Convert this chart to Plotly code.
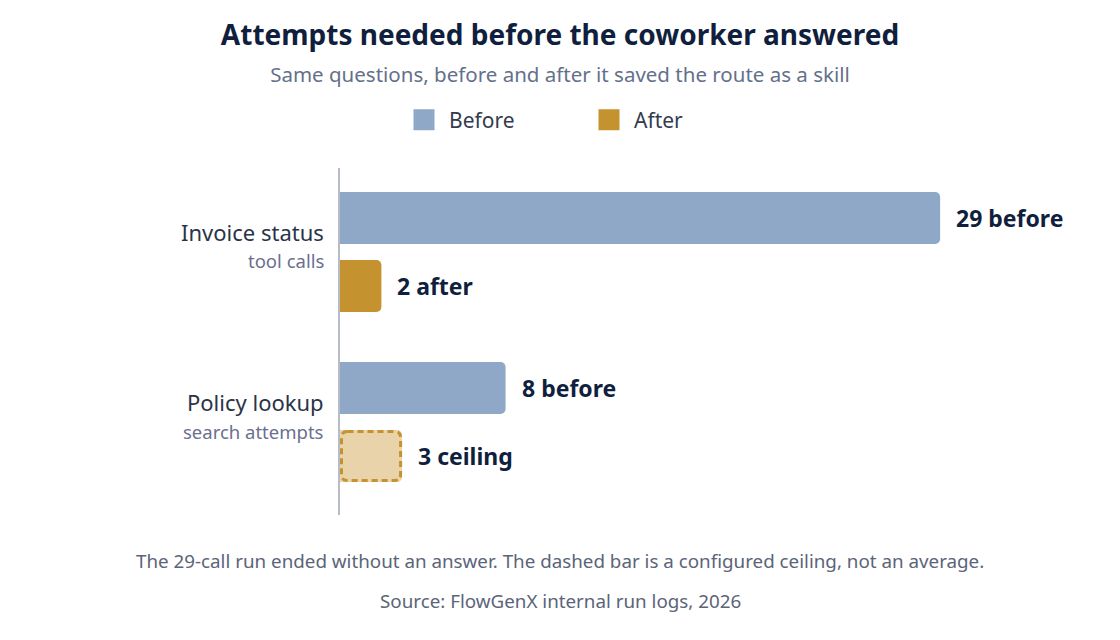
import plotly.graph_objects as go

# Data
questions = ["Invoice status", "Policy lookup"]
units = ["tool calls", "search attempts"]
before = [29, 8]
after = [2, 3]
after_is_ceiling = [False, True]
before_labels = ["29 before", "8 before"]
after_labels = ["2 after", "3 ceiling"]

FONT = "Noto Sans"
NAVY = "#0f1f3d"
BLUE = "#8fa8c8"
GOLD = "#c4922e"
GOLD_LIGHT = "#e8d3ab"
MUTED = "#5b6478"

W, H = 1104, 624
L, R, T, B = 332, 27, 160, 117
plot_w, plot_h = W - L - R, H - T - B

ypos = list(range(len(questions)))
X_MAX = 36
Y_RANGE = [1.547, -0.494]

fig = go.Figure()

fig.add_trace(go.Bar(
    y=ypos, x=before, orientation="h", name="Before", showlegend=False,
    marker=dict(color=BLUE, cornerradius=5, line=dict(width=0)),
    hoverinfo="x+name",
))

after_colors = [GOLD_LIGHT if c else GOLD for c in after_is_ceiling]
fig.add_trace(go.Bar(
    y=ypos, x=after, orientation="h", name="After", showlegend=False,
    marker=dict(color=after_colors, cornerradius=5, line=dict(width=0)),
    hoverinfo="x+name",
))

# legend swatches (bigger than plotly's default bar swatch)
for name, col in [("Before", BLUE), ("After", GOLD)]:
    fig.add_trace(go.Scatter(
        x=[None], y=[None], mode="markers", name=name,
        marker=dict(symbol="square", size=16, color=col, line=dict(color=col, width=8)),
    ))

# dashed outline for ceiling bars (plotly bars cannot dash their outline)
bargap, groupgap = 0.2, 0.235
slot = (1 - bargap) / 2
bw = slot * (1 - groupgap)
px_per_x = plot_w / X_MAX
px_per_y = plot_h / (Y_RANGE[0] - Y_RANGE[1])
rx, ry = 6 / px_per_x, 6 / px_per_y
ix, iy = 1.5 / px_per_x, 1.5 / px_per_y
for i, (v, ceil) in enumerate(zip(after, after_is_ceiling)):
    if not ceil:
        continue
    yc = ypos[i] + slot / 2
    y0, y1 = yc - bw / 2 + iy, yc + bw / 2 - iy
    x0, x1 = ix, v - ix
    path = (f"M {x0 + rx},{y0} L {x1 - rx},{y0} Q {x1},{y0} {x1},{y0 + ry} "
            f"L {x1},{y1 - ry} Q {x1},{y1} {x1 - rx},{y1} "
            f"L {x0 + rx},{y1} Q {x0},{y1} {x0},{y1 - ry} "
            f"L {x0},{y0 + ry} Q {x0},{y0} {x0 + rx},{y0} Z")
    fig.add_shape(type="path", path=path, xref="x", yref="y",
                  line=dict(color=GOLD, width=3, dash="6px,4px"),
                  fillcolor="rgba(0,0,0,0)")

# value labels and category labels
for i in range(len(questions)):
    fig.add_annotation(x=before[i], y=ypos[i] - slot / 2, text=f"<b>{before_labels[i]}</b>",
                       xanchor="left", xshift=14, showarrow=False,
                       font=dict(size=23, color=NAVY, family=FONT))
    fig.add_annotation(x=after[i], y=ypos[i] + slot / 2, text=f"<b>{after_labels[i]}</b>",
                       xanchor="left", xshift=14, showarrow=False,
                       font=dict(size=23, color=NAVY, family=FONT))
    fig.add_annotation(x=0, xref="paper", y=ypos[i], text=questions[i],
                       xanchor="right", xshift=-14, yshift=20, showarrow=False,
                       font=dict(size=22, color="#2b3347", family=FONT))
    fig.add_annotation(x=0, xref="paper", y=ypos[i], text=units[i],
                       xanchor="right", xshift=-14, yshift=-9, showarrow=False,
                       font=dict(size=18.5, color="#6b6f8f", family=FONT))

# footnotes, centred on the page rather than the plot area
page_cx = (W / 2 - L) / plot_w
fig.add_annotation(
    text="The 29-call run ended without an answer. The dashed bar is a configured ceiling, not an average.",
    x=page_cx, xref="paper", xanchor="center", y=-46 / plot_h, yref="paper", yanchor="middle",
    showarrow=False, font=dict(size=18.8, color=MUTED, family=FONT))
fig.add_annotation(
    text="Source: FlowGenX internal run logs, 2026",
    x=page_cx, xref="paper", xanchor="center", y=-86 / plot_h, yref="paper", yanchor="middle",
    showarrow=False, font=dict(size=18.8, color=MUTED, family=FONT))

fig.update_layout(
    width=W, height=H,
    paper_bgcolor="white", plot_bgcolor="white",
    font=dict(family=FONT, color=NAVY),
    title=dict(
        text="<b>Attempts needed before the coworker answered</b>"
             "<br><span style='font-size:20.5px;color:#64708a'>Same questions, before and after it saved the route as a skill</span>",
        x=0.5, xanchor="center", y=0.94, yanchor="top",
        font=dict(size=28, color=NAVY, family=FONT),
    ),
    legend=dict(orientation="h", x=(391 - L) / plot_w, xanchor="left",
                y=1 + 48 / plot_h, yanchor="middle",
                font=dict(size=21, color="#333b4f", family=FONT),
                itemwidth=40, entrywidth=130, traceorder="normal", itemsizing="trace"),
    barmode="group", bargap=bargap, bargroupgap=groupgap,
    margin=dict(l=L, r=R, t=T, b=B),
    xaxis=dict(range=[0, X_MAX], showgrid=False, zeroline=False, showticklabels=False,
               showline=False),
    yaxis=dict(range=Y_RANGE, showgrid=False, zeroline=False, showticklabels=False,
               showline=True, linecolor="#b8bcc8", linewidth=1.5),
)

fig.write_html("out.html")
